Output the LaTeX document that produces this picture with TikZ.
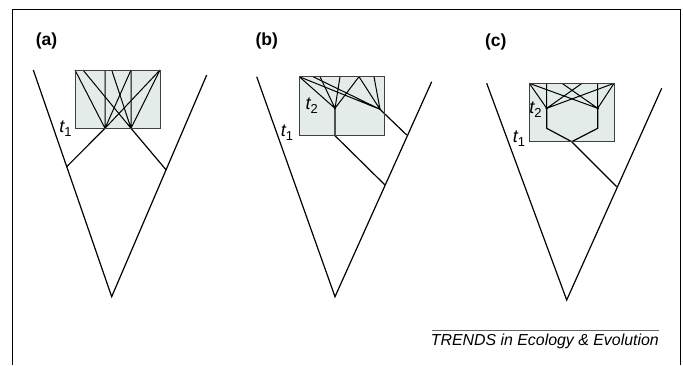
\documentclass[tikz,border=0pt]{standalone}
\usepackage{fontspec}
\setmainfont{Liberation Sans}
\begin{document}
\begin{tikzpicture}[x=1pt,y=-1pt,
  tree/.style={line width=1.2pt,black},
  lin/.style={line width=1pt,black},
  boxst/.style={draw=black!75,line width=0.9pt},
  frame/.style={line width=1.4pt,black},
  plabel/.style={font=\fontsize{17.5}{17.5}\selectfont\bfseries,inner sep=0pt},
  tlabel/.style={font=\fontsize{18}{18}\selectfont,inner sep=0pt}]
\definecolor{boxfill}{RGB}{228,236,234}
\newcommand{\tsub}[1]{\itshape t\raisebox{-0.4ex}{\upshape\fontsize{13}{13}\selectfont #1}}
\useasboundingbox (0,0) rectangle (683,365);
% frame
\coordinate (f1) at (12.3,365);
\coordinate (f2) at (12.3,9.3);
\coordinate (f3) at (680.3,9.3);
\coordinate (f4) at (680.3,365);
\draw[frame] (f1) -- (f2) -- (f3) -- (f4);

% ---------- panel (a)
\node[plabel] (la) at (46.5,41) {(a)};
\fill[boxfill] (75,70) rectangle (160,128.3);
\coordinate (aL) at (33.3,70);
\coordinate (aR) at (206.7,75);
\coordinate (aA) at (111.7,296.7);
\draw[tree] (aL) -- (aA) -- (aR);
\coordinate (an1) at (105,128.3);
\coordinate (an2) at (131,128.3);
\coordinate (at1) at (75,70);
\coordinate (at2) at (83,70);
\coordinate (at3) at (105,70);
\coordinate (at4) at (111.7,70);
\coordinate (at5) at (131,70);
\coordinate (at6) at (160,70);
\draw[lin] (at1) -- (an1) (at3) -- (an1) (at5) -- (an1) (at6) -- (an1);
\draw[lin] (at2) -- (an2) (at4) -- (an2) (at5) -- (an2) (at6) -- (an2);
\coordinate (ab1) at (66.7,166.7);
\coordinate (ab2) at (166.2,170);
\draw[tree] (an1) -- (ab1) (an2) -- (ab2);
\draw[boxst] (75,70) rectangle (160,128.3);
\node[tlabel] (ta1) at (65.5,129) {\tsub{1}};

% ---------- panel (b)
\node[plabel] (lb) at (266.7,40.7) {(b)};
\fill[boxfill] (299.3,76.7) rectangle (384,135.7);
\coordinate (bL) at (256.7,76.7);
\coordinate (bR) at (431.7,81.7);
\coordinate (bA) at (335,296.7);
\draw[tree] (bL) -- (bA) -- (bR);
\coordinate (bnA) at (335,108.3);
\coordinate (bnB) at (380,109.3);
\coordinate (bbot) at (335,135.7);
\coordinate (bt1) at (299.3,76.7);
\coordinate (bt2) at (313,76.7);
\coordinate (bt3) at (320,76.7);
\coordinate (bt4) at (340,76.7);
\coordinate (bt5) at (359,76.7);
\coordinate (bt6) at (374,76.7);
\draw[lin] (bt1) -- (bnA) (bt3) -- (bnA) (bt4) -- (bnA) (bt5) -- (bnA);
\draw[lin] (bt1) -- (bnB) (bt2) -- (bnB) (bt5) -- (bnB) (bt6) -- (bnB);
\coordinate (bb1) at (385,185);
\coordinate (bb2) at (406.7,135);
\draw[tree] (bnA) -- (bbot) -- (bb1) (bnB) -- (bb2);
\fill (bnA) circle (1.1pt) (bnB) circle (1.1pt);
\draw[boxst] (299.3,76.7) rectangle (384,135.7);
\node[tlabel] (tb2) at (311.7,106) {\tsub{2}};
\node[tlabel] (tb1) at (287,132.5) {\tsub{1}};

% ---------- panel (c)
\node[plabel] (lc) at (495.7,41.7) {(c)};
\fill[boxfill] (529.3,83.3) rectangle (614,141.7);
\coordinate (cL) at (486.7,83.3);
\coordinate (cR) at (661.7,88.3);
\coordinate (cA) at (566.7,300);
\draw[tree] (cL) -- (cA) -- (cR);
\coordinate (cnL) at (546.7,108.3);
\coordinate (cnR) at (597.7,108.3);
\coordinate (ct1) at (529.3,83.3);
\coordinate (ct2) at (546.7,83.3);
\coordinate (ct3) at (562,83.3);
\coordinate (ct4) at (582,83.3);
\coordinate (ct5) at (597.7,83.3);
\coordinate (ct6) at (614,83.3);
\draw[lin] (ct1) -- (cnL) (ct2) -- (cnL) (ct4) -- (cnL) (ct6) -- (cnL);
\draw[lin] (ct1) -- (cnR) (ct3) -- (cnR) (ct5) -- (cnR) (ct6) -- (cnR);
\coordinate (cvL) at (546.7,128.3);
\coordinate (cvR) at (597.7,128.3);
\coordinate (cbot) at (571.7,141.7);
\coordinate (cb1) at (616.7,186.7);
\draw[tree] (cnL) -- (cvL) -- (cbot) -- (cvR) -- (cnR) (cbot) -- (cb1);
\fill (cnL) circle (1.3pt) (cnR) circle (1.3pt);
\draw[boxst] (529.3,83.3) rectangle (614,141.7);
\node[tlabel] (tc2) at (535.5,110) {\tsub{2}};
\node[tlabel] (tc1) at (519,138.5) {\tsub{1}};

% ---------- footer
\coordinate (r1) at (432,330);
\coordinate (r2) at (659,330);
\draw[line width=0.9pt,black!60] (r1) -- (r2);
\node[font=\fontsize{15.9}{15.9}\selectfont\itshape,anchor=east,inner sep=0pt] (trends) at (659,341) {TRENDS in Ecology \& Evolution};
\end{tikzpicture}
\end{document}
